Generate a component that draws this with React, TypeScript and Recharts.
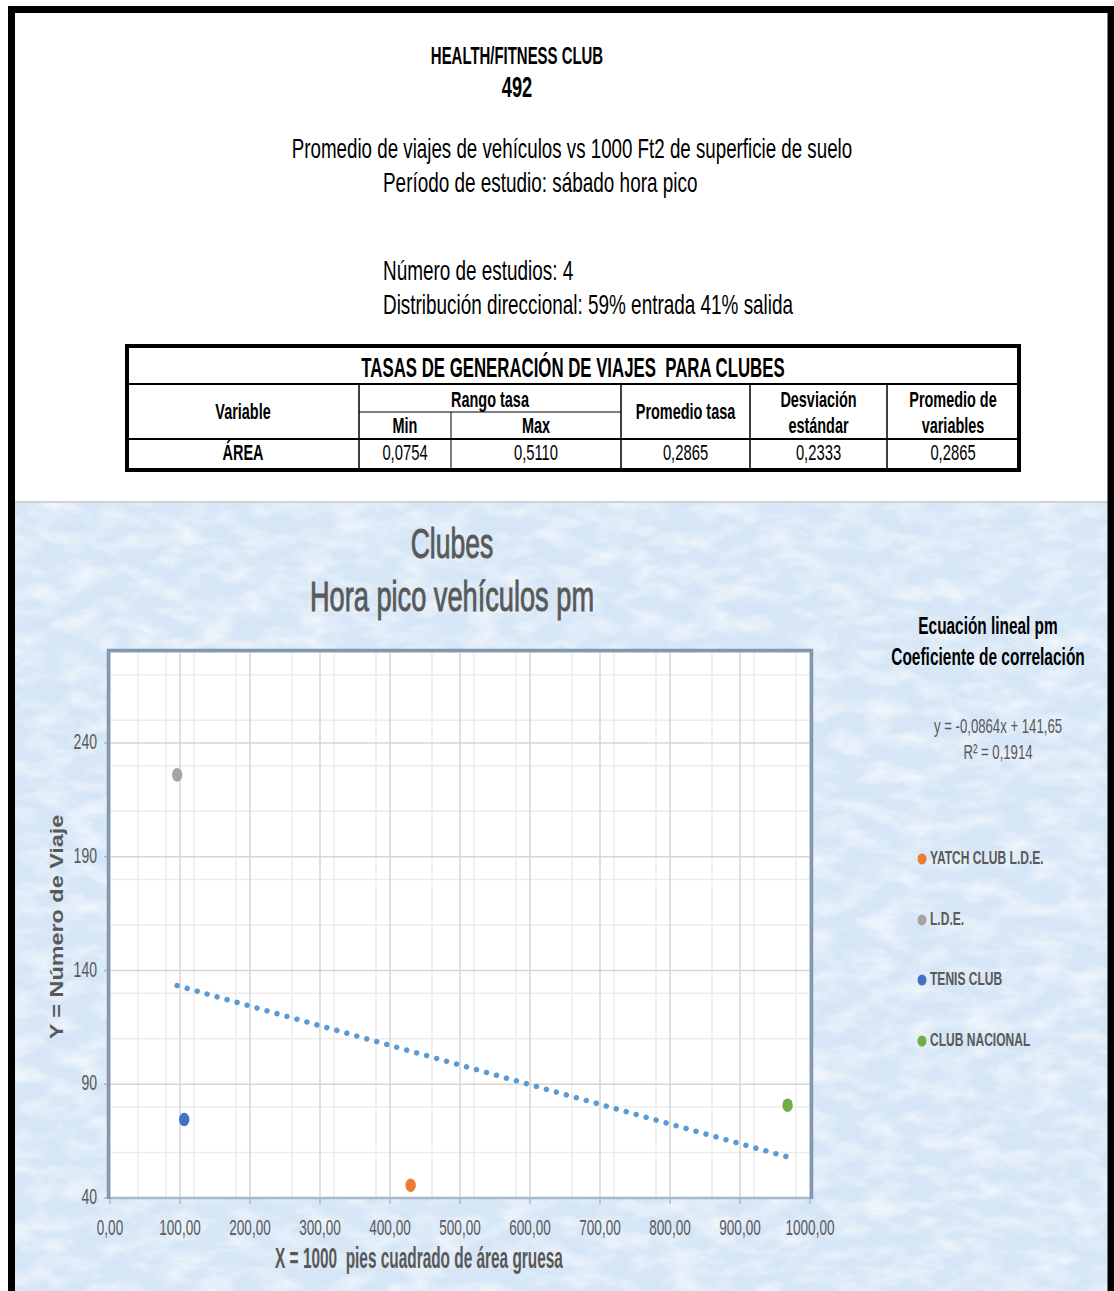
import React from 'react';
import { ScatterChart, Scatter, XAxis, YAxis, CartesianGrid } from 'recharts';

// Study sites: gross floor area (1000 ft²) vs. pm peak-hour vehicle trips
const clubNames = ['YATCH CLUB L.D.E.', 'L.D.E.', 'TENIS CLUB', 'CLUB NACIONAL'];
const areaKsf = [429.5, 96, 106, 968];
const peakTrips = [45.6, 226, 74.5, 80.8];
const clubColors = ['#ED7D31', '#A5A5A5', '#4472C4', '#70AD47'];

// Linear fit as published with the chart
const fitSlope = -0.0864;
const fitIntercept = 141.65;
const fitR2 = 0.1914;

// Axis ticks
const xTicks = [0, 100, 200, 300, 400, 500, 600, 700, 800, 900, 1000];
const yTicks = [40, 90, 140, 190, 240];
const xDomain: [number, number] = [0, 1000];
const yDomain: [number, number] = [40, 280];

// Summary table
const tableTitle = 'TASAS DE GENERACIÓN DE VIAJES  PARA CLUBES';
const tableVariable = 'ÁREA';
const rateMin = '0,0754';
const rateMax = '0,5110';
const rateAvg = '0,2865';
const rateStd = '0,2333';
const varAvg = '0,2865';

const SY = 1.3; // tall, condensed lettering
const NARROW = '"Liberation Sans Narrow", "Arial Narrow", "Liberation Sans", sans-serif';
const GRAY = '#595959';

const fmtComma = (v: number, d: number) => v.toFixed(d).replace('.', ',');

function STxt(props: {
  x: number; y: number; size: number; weight?: number | string; fill?: string; sx?: number;
  anchor?: 'start' | 'middle' | 'end'; family?: string; thicken?: number; children: React.ReactNode;
}) {
  const { x, y, size, weight = 'normal', fill = '#000', anchor = 'middle', family = NARROW, sx = 0.86, thicken = 0, children } = props;
  return (
    <text
      transform={`translate(${x},${y}) scale(${sx},${SY})`}
      fontSize={size}
      fontWeight={weight}
      fill={fill}
      stroke={thicken ? fill : undefined}
      strokeWidth={thicken || undefined}
      textAnchor={anchor}
      dominantBaseline="central"
      fontFamily={family}
      style={{ whiteSpace: 'pre' }}
    >
      {children}
    </text>
  );
}

const XTick = (p: any) => (
  <STxt x={p.x} y={p.y + 22} size={16.5} sx={0.82} fill={GRAY}>
    {fmtComma(p.payload.value, 2)}
  </STxt>
);

const YTick = (p: any) => (
  <STxt x={p.x - 5} y={p.y - 1} size={16.5} sx={0.85} fill={GRAY} anchor="end">
    {String(p.payload.value)}
  </STxt>
);

const minorX: number[] = [];
for (let v = 20; v < 1000; v += 20) if (v % 100 !== 0) minorX.push(v);
const minorY: number[] = [];
for (let v = 50; v < 280; v += 10) if ((v - 40) % 50 !== 0) minorY.push(v);

// Chart panel placement on the page
const PANEL = { left: 15, top: 502, width: 1093, height: 789 };
const PLOT = { left: 110, top: 652, right: 810, bottom: 1198 };

const fitStartX = Math.min(...areaKsf);
const fitEndX = Math.max(...areaKsf);
const fitLine = [
  { x: fitStartX, y: fitSlope * fitStartX + fitIntercept },
  { x: fitEndX, y: fitSlope * fitEndX + fitIntercept },
];

// dot spacing of the dotted trendline, fitted so a dot lands on both ends
const pxPerX = (PLOT.right - PLOT.left) / (xDomain[1] - xDomain[0]);
const pxPerY = (PLOT.bottom - PLOT.top) / (yDomain[1] - yDomain[0]);
const fitLenPx = Math.hypot(
  (fitEndX - fitStartX) * pxPerX,
  (fitLine[1].y - fitLine[0].y) * pxPerY,
);
const dotGap = fitLenPx / Math.round(fitLenPx / 10.4) - 0.03;

const clubPoints = clubNames.map((name, i) => ({
  name,
  color: clubColors[i],
  data: [{ x: areaKsf[i], y: peakTrips[i] }],
}));

const Ellipse = (color: string) => (p: any) => (
  <ellipse cx={p.cx} cy={p.cy} rx={5.2} ry={6.8} fill={color} />
);

function Table() {
  const cols = [127, 359, 451, 621, 750, 887, 1019];
  const top = 346, titleBottom = 384, split = 412, headBottom = 439, bottom = 470;
  const cx = (a: number, b: number) => (cols[a] + cols[b]) / 2;
  const hs = 17;
  const s = 0.85;
  return (
    <g>
      <rect x={cols[0]} y={top} width={cols[6] - cols[0]} height={bottom - top} fill="#fff" stroke="#000" strokeWidth={4} />
      <line x1={cols[0]} x2={cols[6]} y1={titleBottom} y2={titleBottom} stroke="#000" strokeWidth={2} />
      <line x1={cols[0]} x2={cols[6]} y1={headBottom} y2={headBottom} stroke="#000" strokeWidth={2} />
      <line x1={cols[1]} x2={cols[3]} y1={split} y2={split} stroke="#000" strokeWidth={1} />
      {[1, 3, 4, 5].map((c) => (
        <line key={c} x1={cols[c]} x2={cols[c]} y1={titleBottom} y2={bottom} stroke="#000" strokeWidth={1.5} />
      ))}
      <line x1={cols[2]} x2={cols[2]} y1={split} y2={bottom} stroke="#000" strokeWidth={1} />
      <STxt x={573} y={367} size={21} sx={0.8} weight="bold">{tableTitle}</STxt>
      <STxt x={cx(0, 1)} y={411} size={hs} sx={s} weight="bold">Variable</STxt>
      <STxt x={cx(1, 3)} y={399} size={hs} sx={s} weight="bold">Rango tasa</STxt>
      <STxt x={cx(1, 2)} y={425} size={hs} sx={s} weight="bold">Min</STxt>
      <STxt x={cx(2, 3)} y={425} size={hs} sx={s} weight="bold">Max</STxt>
      <STxt x={cx(3, 4)} y={411} size={hs} sx={s} weight="bold">Promedio tasa</STxt>
      <STxt x={cx(4, 5)} y={399} size={hs} sx={s} weight="bold">Desviación</STxt>
      <STxt x={cx(4, 5)} y={425} size={hs} sx={s} weight="bold">estándar</STxt>
      <STxt x={cx(5, 6)} y={399} size={hs} sx={s} weight="bold">Promedio de</STxt>
      <STxt x={cx(5, 6)} y={425} size={hs} sx={s} weight="bold">variables</STxt>
      <STxt x={cx(0, 1)} y={452} size={hs} sx={s} weight="bold">{tableVariable}</STxt>
      <STxt x={cx(1, 2)} y={452} size={hs} sx={0.87}>{rateMin}</STxt>
      <STxt x={cx(2, 3)} y={452} size={hs} sx={0.87}>{rateMax}</STxt>
      <STxt x={cx(3, 4)} y={452} size={hs} sx={0.87}>{rateAvg}</STxt>
      <STxt x={cx(4, 5)} y={452} size={hs} sx={0.87}>{rateStd}</STxt>
      <STxt x={cx(5, 6)} y={452} size={hs} sx={0.87}>{varAvg}</STxt>
    </g>
  );
}

export default function App() {
  const legendY = [859, 920, 980, 1041];
  return (
    <div style={{ position: 'absolute', left: 0, top: 0, width: 1114, height: 1291, overflow: 'hidden', background: '#fff' }}>
      <svg width={1114} height={1291} style={{ position: 'absolute', left: 0, top: 0 }}>
        <defs>
          <filter id="frost" x="0" y="0" width="100%" height="100%">
            <feTurbulence type="fractalNoise" baseFrequency="0.03 0.06" numOctaves={4} seed={7} />
            <feColorMatrix type="matrix" values="0 0 0 0 1  0 0 0 0 1  0 0 0 0 1  2.2 0 0 0 -0.85" />
          </filter>
          <filter id="shade" x="0" y="0" width="100%" height="100%">
            <feTurbulence type="fractalNoise" baseFrequency="0.045 0.08" numOctaves={3} seed={21} />
            <feColorMatrix type="matrix" values="0 0 0 0 0.66  0 0 0 0 0.79  0 0 0 0 0.93  2.2 0 0 0 -1.0" />
          </filter>
        </defs>
        {/* chart panel background */}
        <rect x={PANEL.left} y={PANEL.top} width={PANEL.width} height={PANEL.height} fill="#d6e6f6" />
        <rect x={PANEL.left} y={PANEL.top} width={PANEL.width} height={PANEL.height} filter="url(#shade)" opacity={0.5} />
        <rect x={PANEL.left} y={PANEL.top} width={PANEL.width} height={PANEL.height} filter="url(#frost)" opacity={0.6} />
        <line x1={PANEL.left} x2={PANEL.left + PANEL.width} y1={PANEL.top} y2={PANEL.top} stroke="#cfd3d8" strokeWidth={2} />

        {/* page frame */}
        <path d="M11.5 1291 V9.5 H1111 V1291" fill="none" stroke="#000" strokeWidth={7} />

        {/* heading */}
        <STxt x={517} y={56} size={18} sx={0.83} weight="bold">HEALTH/FITNESS CLUB</STxt>
        <STxt x={517} y={87} size={22} sx={0.83} weight="bold">492</STxt>
        <STxt x={572} y={148} size={21.5} sx={0.872}>Promedio de viajes de vehículos vs 1000 Ft2 de superficie de suelo</STxt>
        <STxt x={383} y={182} size={21.5} sx={0.88} anchor="start">Período de estudio: sábado hora pico</STxt>
        <STxt x={383} y={270} size={21.5} sx={0.88} anchor="start">Número de estudios: 4</STxt>
        <STxt x={383} y={304} size={21.5} sx={0.88} anchor="start">Distribución direccional: 59% entrada 41% salida</STxt>

        <Table />

        {/* chart titles */}
        <STxt x={452} y={543} size={32} sx={0.83} fill={GRAY} thicken={0.7}>Clubes</STxt>
        <STxt x={452} y={596} size={32} sx={0.85} fill={GRAY} thicken={0.7}>Hora pico vehículos pm</STxt>

        <STxt x={988} y={625} size={19} sx={0.81} weight="bold">Ecuación lineal pm</STxt>
        <STxt x={988} y={656} size={19} sx={0.815} weight="bold">Coeficiente de correlación</STxt>
        <STxt x={998} y={726} size={15.5} sx={0.85} fill={GRAY}>
          {`y = ${fmtComma(fitSlope, 4)}x + ${fmtComma(fitIntercept, 2)}`}
        </STxt>
        <STxt x={998} y={752} size={15.5} sx={0.85} fill={GRAY}>
          R² = {fmtComma(fitR2, 4)}
        </STxt>

        {clubPoints.map((c, i) => (
          <g key={c.name}>
            <ellipse cx={922} cy={legendY[i]} rx={4.5} ry={5.5} fill={c.color} />
            <STxt x={930} y={legendY[i] - 1} size={14} sx={0.86} weight="bold" fill={GRAY} anchor="start">{c.name}</STxt>
          </g>
        ))}

        {/* axis titles */}
        <STxt x={419} y={1258} size={22} sx={0.7} weight="bold" fill={GRAY}>X = 1000  pies cuadrado de área gruesa</STxt>
        <text
          transform="translate(57,927) rotate(-90) scale(1.3,1)"
          fontSize={18}
          fontWeight="bold"
          fill={GRAY}
          textAnchor="middle"
          dominantBaseline="central"
          fontFamily='"Liberation Sans", Arial, sans-serif'
        >
          Y = Número de Viaje
        </text>
      </svg>

      <div style={{ position: 'absolute', left: PANEL.left, top: PANEL.top }}>
        <ScatterChart
          width={PANEL.width}
          height={PANEL.height}
          margin={{
            top: PLOT.top - PANEL.top,
            left: PLOT.left - PANEL.left - 45,
            right: PANEL.left + PANEL.width - PLOT.right,
            bottom: PANEL.top + PANEL.height - PLOT.bottom - 40,
          }}
        >
          <CartesianGrid fill="#ffffff" stroke="#ececec" strokeWidth={1.5} horizontalValues={minorY} verticalValues={minorX} />
          <CartesianGrid stroke="#d6d6d6" strokeWidth={1.5} />
          <XAxis
            type="number"
            dataKey="x"
            domain={xDomain}
            ticks={xTicks}
            allowDataOverflow
            height={40}
            tick={<XTick />}
            tickSize={6}
            axisLine={{ stroke: '#a9b7ca', strokeWidth: 2.5 }}
            tickLine={{ stroke: '#a9b7ca', strokeWidth: 1.5 }}
          />
          <YAxis
            type="number"
            dataKey="y"
            domain={yDomain}
            ticks={yTicks}
            allowDataOverflow
            width={45}
            tick={<YTick />}
            tickSize={6}
            axisLine={false}
            tickLine={{ stroke: '#a9b7ca', strokeWidth: 1.5 }}
          />
          <Scatter
            name="Lineal"
            data={fitLine}
            fill="#5B9BD5"
            line={{ stroke: '#5B9BD5', strokeWidth: 5.5, strokeDasharray: `0.001 ${dotGap - 0.001}`, strokeLinecap: 'round' }}
            shape={() => <g />}
            isAnimationActive={false}
          />
          {clubPoints.map((c) => (
            <Scatter key={c.name} name={c.name} data={c.data} fill={c.color} shape={Ellipse(c.color)} isAnimationActive={false} />
          ))}
        </ScatterChart>
      </div>

      {/* plot frame */}
      <svg width={1114} height={1291} style={{ position: 'absolute', left: 0, top: 0, pointerEvents: 'none' }}>
        <path
          d={`M${PLOT.left - 1.5} ${PLOT.bottom + 1} V${PLOT.top - 1.5} H${PLOT.right + 1.5} V${PLOT.bottom + 1}`}
          fill="none"
          stroke="#8497b0"
          strokeWidth={3.5}
        />
      </svg>
    </div>
  );
}
